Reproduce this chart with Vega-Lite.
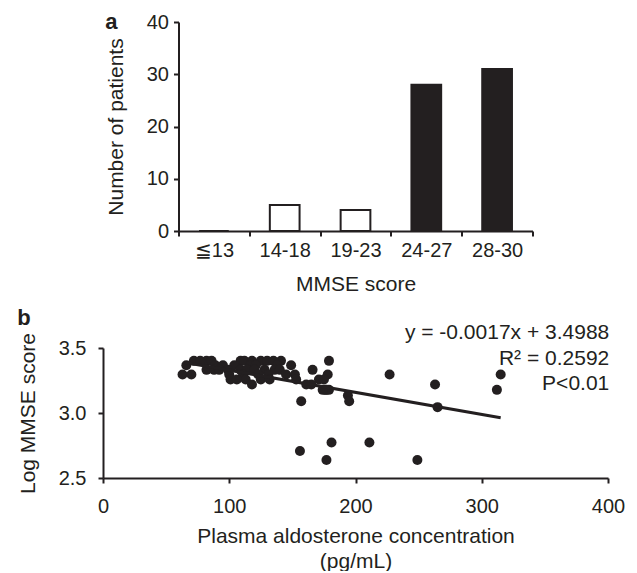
{
  "$schema": "https://vega.github.io/schema/vega-lite/v6.json",
  "padding": {"left": 17, "top": 11, "right": 5, "bottom": 0},
  "background": "white",
  "config": {
    "view": {"stroke": null},
    "font": "Liberation Sans",
    "axis": {"domainColor": "#231f20", "domainWidth": 2, "tickColor": "#231f20", "tickWidth": 2, "tickSize": 5, "labelFontSize": 20, "labelColor": "#231f20", "titleFontSize": 21, "titleFontWeight": "normal", "titleColor": "#231f20", "grid": false, "labelFont": "Liberation Sans", "titleFont": "Liberation Sans"},
    "title": {"fontSize": 22, "fontWeight": "bold", "anchor": "start", "frame": "bounds", "color": "#231f20", "font": "Liberation Sans"}
  },
  "bounds": "flush",
  "center": true,
  "spacing": 117,
  "vconcat": [
    {
      "title": {"text": "a", "offset": -22},
      "width": 354,
      "height": 209,
      "data": {"values": [
        {"score": "≦13", "n": 0, "group": "low"},
        {"score": "14-18", "n": 5, "group": "low"},
        {"score": "19-23", "n": 4, "group": "low"},
        {"score": "24-27", "n": 28, "group": "high"},
        {"score": "28-30", "n": 31, "group": "high"}
      ]},
      "mark": {"type": "bar", "width": {"band": 0.42}, "stroke": "#231f20", "strokeWidth": 2},
      "encoding": {
        "x": {"field": "score", "type": "nominal", "sort": null, "scale": {"paddingInner": 0, "paddingOuter": 0},
              "axis": {"title": "MMSE score", "labelAngle": 0, "tickBand": "extent", "labelPadding": 4, "titlePadding": 13}},
        "y": {"field": "n", "type": "quantitative", "scale": {"domain": [0, 40]},
              "axis": {"title": "Number of patients", "values": [0, 10, 20, 30, 40], "labelPadding": 5, "titlePadding": 20}},
        "fill": {"field": "group", "type": "nominal", "scale": {"domain": ["low", "high"], "range": ["white", "#231f20"]}, "legend": null}
      }
    },
    {
      "title": {"text": "b", "offset": -8},
      "width": 505,
      "height": 130,
      "layer": [
        {
          "data": {"values": [
            {"x": 72, "y": 3.401}, {"x": 82, "y": 3.401}, {"x": 86, "y": 3.401}, {"x": 109, "y": 3.401}, {"x": 112, "y": 3.401}, {"x": 125, "y": 3.401},
            {"x": 130, "y": 3.401}, {"x": 141, "y": 3.401}, {"x": 118, "y": 3.401}, {"x": 179, "y": 3.401}, {"x": 77, "y": 3.401}, {"x": 135, "y": 3.401},
            {"x": 66, "y": 3.367}, {"x": 89, "y": 3.367}, {"x": 117, "y": 3.367}, {"x": 149, "y": 3.367}, {"x": 121, "y": 3.367}, {"x": 95, "y": 3.367}, {"x": 104, "y": 3.367}, {"x": 138, "y": 3.367},
            {"x": 82, "y": 3.332}, {"x": 88, "y": 3.332}, {"x": 99, "y": 3.332}, {"x": 109, "y": 3.332}, {"x": 128, "y": 3.332}, {"x": 136, "y": 3.332},
            {"x": 140, "y": 3.332}, {"x": 166, "y": 3.332}, {"x": 92, "y": 3.332}, {"x": 114, "y": 3.332}, {"x": 120, "y": 3.332},
            {"x": 63, "y": 3.296}, {"x": 70, "y": 3.296}, {"x": 111, "y": 3.296}, {"x": 145, "y": 3.296}, {"x": 152, "y": 3.296}, {"x": 178, "y": 3.296},
            {"x": 227, "y": 3.296}, {"x": 315, "y": 3.296}, {"x": 100, "y": 3.296}, {"x": 123, "y": 3.296}, {"x": 131, "y": 3.296},
            {"x": 101, "y": 3.258}, {"x": 113, "y": 3.258}, {"x": 125, "y": 3.258}, {"x": 132, "y": 3.258}, {"x": 153, "y": 3.258}, {"x": 171, "y": 3.258}, {"x": 175, "y": 3.258}, {"x": 106, "y": 3.258},
            {"x": 161, "y": 3.219}, {"x": 263, "y": 3.219}, {"x": 165, "y": 3.219}, {"x": 118, "y": 3.219},
            {"x": 176, "y": 3.178}, {"x": 177, "y": 3.178}, {"x": 179, "y": 3.178}, {"x": 312, "y": 3.178}, {"x": 174, "y": 3.178},
            {"x": 194, "y": 3.135}, {"x": 157, "y": 3.091}, {"x": 195, "y": 3.091}, {"x": 265, "y": 3.045},
            {"x": 181, "y": 2.773}, {"x": 211, "y": 2.773}, {"x": 156, "y": 2.708}, {"x": 177, "y": 2.639}, {"x": 249, "y": 2.639}
          ]},
          "mark": {"type": "circle", "size": 100, "opacity": 1, "color": "#231f20"},
          "encoding": {
            "x": {"field": "x", "type": "quantitative", "scale": {"domain": [0, 400]},
                  "axis": {"title": ["Plasma aldosterone concentration", "(pg/mL)"], "values": [0, 100, 200, 300, 400], "labelFlush": false, "labelPadding": 13, "titlePadding": 9, "titleLineHeight": 25}},
            "y": {"field": "y", "type": "quantitative", "scale": {"domain": [2.5, 3.5]},
                  "axis": {"title": "Log MMSE score", "values": [2.5, 3.0, 3.5], "format": ".1f", "labelPadding": 12, "titlePadding": 20}}
          }
        },
        {
          "data": {"values": [{"x": 65, "y": 3.3883}, {"x": 315, "y": 2.9633}]},
          "mark": {"type": "line", "color": "#231f20", "strokeWidth": 3.2},
          "encoding": {
            "x": {"field": "x", "type": "quantitative"},
            "y": {"field": "y", "type": "quantitative"}
          }
        },
        {
          "data": {"values": [
            {"x": 401, "y": 3.618, "label": "y = -0.0017x + 3.4988"},
            {"x": 401, "y": 3.415, "label": "R² = 0.2592"},
            {"x": 401, "y": 3.222, "label": "P<0.01"}
          ]},
          "mark": {"type": "text", "align": "right", "baseline": "middle", "fontSize": 21, "color": "#231f20", "font": "Liberation Sans"},
          "encoding": {
            "x": {"field": "x", "type": "quantitative"},
            "y": {"field": "y", "type": "quantitative"},
            "text": {"field": "label"}
          }
        }
      ]
    }
  ]
}
